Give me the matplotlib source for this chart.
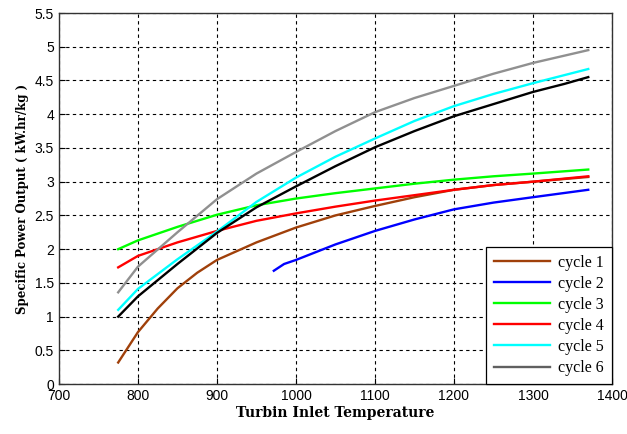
import numpy as np
import matplotlib
matplotlib.use('Agg')
from matplotlib import pyplot as plt

# data (Turbine inlet temperature vs specific power output)
t1 = [775, 800, 825, 850, 875, 900, 950, 1000, 1050, 1100, 1150, 1200, 1250, 1300, 1370]
cycle1 = [0.32, 0.77, 1.12, 1.42, 1.65, 1.84, 2.10, 2.32, 2.50, 2.64, 2.77, 2.88, 2.95, 3.00, 3.07]

t2 = [972, 985, 1000, 1050, 1100, 1150, 1200, 1250, 1300, 1370]
cycle2 = [1.68, 1.78, 1.84, 2.07, 2.27, 2.44, 2.59, 2.69, 2.77, 2.88]

t = [775, 800, 850, 900, 950, 1000, 1050, 1100, 1150, 1200, 1250, 1300, 1370]
cycle3 = [2.00, 2.13, 2.33, 2.51, 2.65, 2.75, 2.83, 2.90, 2.97, 3.03, 3.08, 3.12, 3.18]
cycle4 = [1.73, 1.90, 2.10, 2.27, 2.42, 2.53, 2.63, 2.72, 2.80, 2.88, 2.95, 3.00, 3.08]
cycle5 = [1.10, 1.41, 1.85, 2.26, 2.70, 3.06, 3.37, 3.64, 3.90, 4.12, 4.30, 4.46, 4.67]
cycle6 = [1.36, 1.74, 2.25, 2.74, 3.12, 3.44, 3.75, 4.03, 4.24, 4.42, 4.60, 4.76, 4.95]

t7 = [775, 800, 850, 900, 950, 1000, 1050, 1100, 1150, 1200, 1250, 1300, 1340, 1370]
cycle7 = [1.00, 1.30, 1.78, 2.24, 2.62, 2.93, 3.23, 3.51, 3.75, 3.97, 4.15, 4.33, 4.45, 4.55]

fig = plt.figure(figsize=(6.27, 4.34), dpi=100)
ax = fig.add_axes([0.094, 0.115, 0.882, 0.855])

lw = 1.7
ax.plot(t1, cycle1, color='#a0400a', lw=lw, label='cycle 1')
ax.plot(t2, cycle2, color='#0000ff', lw=lw, label='cycle 2')
ax.plot(t, cycle3, color='#00ff00', lw=lw, label='cycle 3')
ax.plot(t, cycle4, color='#ff0000', lw=lw, label='cycle 4')
ax.plot(t, cycle5, color='#00ffff', lw=lw, label='cycle 5')
ax.plot(t, cycle6, color='#909090', lw=lw, label='cycle 6')
ax.plot(t7, cycle7, color='#000000', lw=lw)

ax.set_xlim(700, 1400)
ax.set_ylim(0, 5.5)
ax.set_xticks(np.arange(700, 1401, 100))
ax.set_yticks(np.arange(0, 5.51, 0.5))
ax.set_yticklabels(['0', '0.5', '1', '1.5', '2', '2.5', '3', '3.5', '4', '4.5', '5', '5.5'])
ax.tick_params(direction='in', labelsize=10, length=4)
for lab in ax.get_xticklabels() + ax.get_yticklabels():
    lab.set_fontfamily('Liberation Sans')

ax.grid(True, color='black', linestyle=(0, (3, 3)), linewidth=0.8)
for s in ax.spines.values():
    s.set_linewidth(1.0)
    s.set_color('#333333')

ax.set_xlabel('Turbin Inlet Temperature', fontfamily='DejaVu Serif',
              fontweight='bold', fontsize=10, labelpad=2)
ax.set_ylabel('Specific Power Output ( kW.hr/kg )', fontfamily='DejaVu Serif',
              fontweight='bold', fontsize=8.5, labelpad=4)

leg = ax.legend(loc='lower right', borderaxespad=0, fancybox=False,
                prop={'family': 'Liberation Serif', 'size': 11.5},
                handlelength=3.5, labelspacing=0.32, borderpad=0.5,
                handletextpad=0.5, framealpha=1)
leg.get_frame().set_edgecolor('black')
leg.get_frame().set_linewidth(0.9)
leg.legend_handles[5].set_color('#606060')

plt.savefig('out.png')
